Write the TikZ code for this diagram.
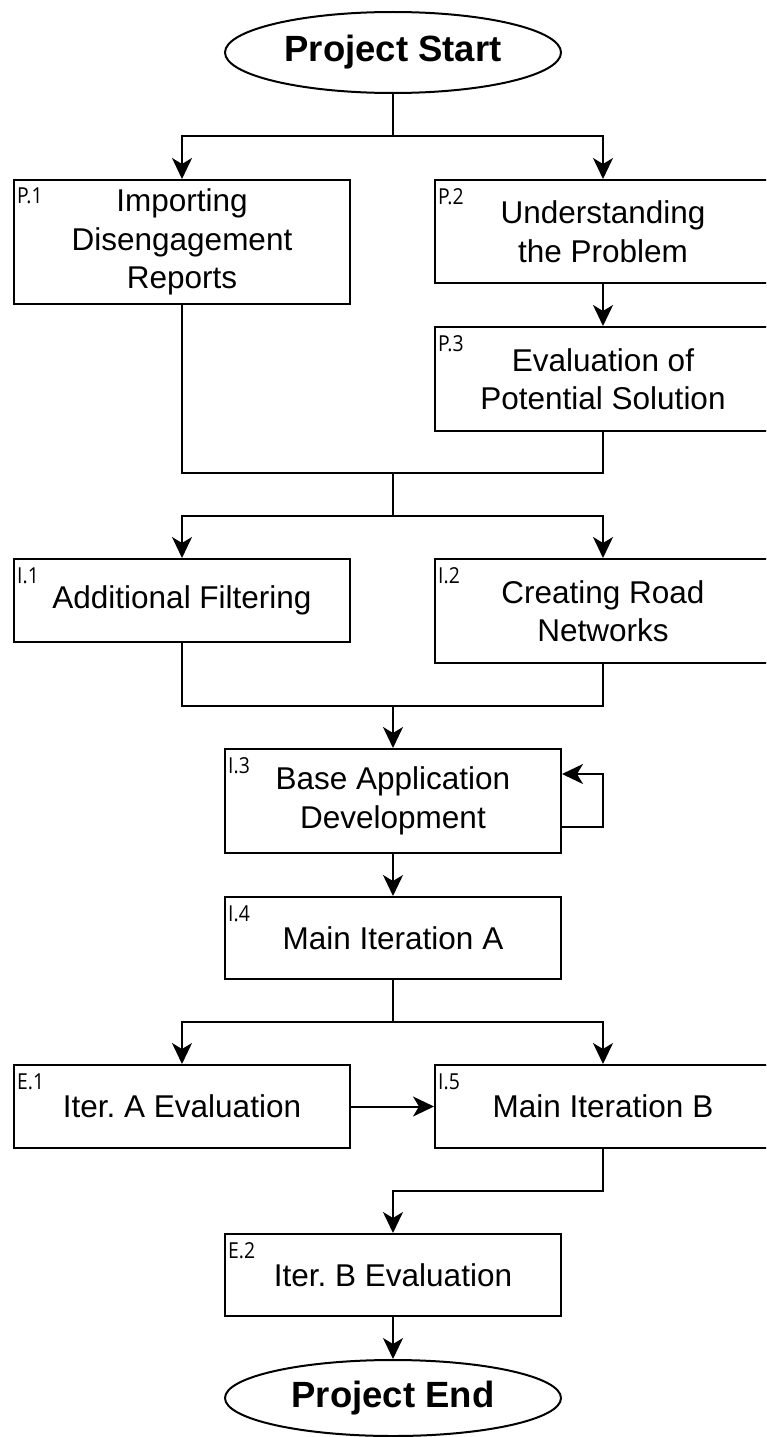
\documentclass[tikz,border=0pt]{standalone}
\usepackage{fontspec}
\setmainfont{Liberation Sans}
\newfontfamily\labelfont[FakeStretch=0.88]{Open Sans}
\frenchspacing
\usetikzlibrary{arrows.meta,shapes.geometric,calc}
\tikzset{
  box/.style={draw, line width=2pt, rectangle, inner sep=0pt, minimum width=336pt, align=center,
    font=\fontsize{31.5}{38.5}\selectfont},
  term/.style={draw, line width=2pt, ellipse, inner sep=0pt, minimum width=336pt, align=center,
    font=\bfseries\fontsize{36.5}{43}\selectfont},
  conn/.style={line width=2pt},
  arr/.style={line width=2pt, -{Stealth[length=21pt, width=20pt, inset=6pt]}},
  tag/.style={anchor=base west, inner sep=0pt, font=\labelfont\fontsize{22}{24}\selectfont},
}
\begin{document}
\begin{tikzpicture}[x=1pt, y=-1pt]
\useasboundingbox (0,0) rectangle (766,1437);
\clip (0,0) rectangle (766,1437);
\fill[white] (0,0) rectangle (766,1437);

% nodes
\node[term, minimum height=81pt] (start) at (393,52.5) {Project Start};
\node[box, minimum height=124pt] (p1) at (182,242) {Importing\\Disengagement\\Reports};
\node[box, minimum height=103pt] (p2) at (603,231.5) {Understanding\\the Problem};
\node[box, minimum height=104pt] (p3) at (603,379) {Evaluation of\\Potential Solution};
\node[box, minimum height=83pt] (i1) at (182,600.5) {Additional Filtering};
\node[box, minimum height=104pt] (i2) at (603,611) {Creating Road\\Networks};
\node[box, minimum height=104pt] (i3) at (393,801) {Base Application\\Development};
\node[box, minimum height=82pt] (i4) at (393,938) {Main Iteration A};
\node[box, minimum height=83pt] (e1) at (182,1106.5) {Iter. A Evaluation};
\node[box, minimum height=83pt] (i5) at (603,1106.5) {Main Iteration B};
\node[box, minimum height=82pt] (e2) at (393,1275) {Iter. B Evaluation};
\node[term, minimum height=76pt] (end) at (393,1398) {Project End};

% tags
\node[tag] (tp1) at ($(p1.north west)+(4,24)$) {P.1};
\node[tag] (tp2) at ($(p2.north west)+(4,25)$) {P.2};
\node[tag] (tp3) at ($(p3.north west)+(4,25)$) {P.3};
\node[tag] (ti1) at ($(i1.north west)+(4,25)$) {I.1};
\node[tag] (ti2) at ($(i2.north west)+(4,25)$) {I.2};
\node[tag] (ti3) at ($(i3.north west)+(4,25)$) {I.3};
\node[tag] (ti4) at ($(i4.north west)+(4,25)$) {I.4};
\node[tag] (te1) at ($(e1.north west)+(4,25)$) {E.1};
\node[tag] (ti5) at ($(i5.north west)+(4,25)$) {I.5};
\node[tag] (te2) at ($(e2.north west)+(4,25)$) {E.2};

% junctions
\coordinate (j1) at (393,136);
\coordinate (j2) at (393,473);
\coordinate (j3) at (393,516);
\coordinate (j4) at (393,706);
\coordinate (j5) at (393,1022);
\coordinate (j6) at (393,1191);
\coordinate (l1) at (603,827);
\coordinate (l2) at (603,774);

% connectors
\draw[conn] (start) -- (j1);
\draw[arr] (j1) -| (p1);
\draw[arr] (j1) -| (p2);
\draw[arr] (p2) -- (p3);
\draw[conn] (p1) |- (j2);
\draw[conn] (p3) |- (j2);
\draw[conn] (j2) -- (j3);
\draw[arr] (j3) -| (i1);
\draw[arr] (j3) -| (i2);
\draw[conn] (i1) |- (j4);
\draw[conn] (i2) |- (j4);
\draw[arr] (j4) -- (i3);
\draw[arr] (i3.east |- l1) -- (l1) -- (l2) -- (i3.east |- l2);
\draw[arr] (i3) -- (i4);
\draw[conn] (i4) -- (j5);
\draw[arr] (j5) -| (e1);
\draw[arr] (j5) -| (i5);
\draw[arr] (e1) -- (i5);
\draw[arr] (i5) |- (j6) -- (e2);
\draw[arr] (e2) -- (end);
\end{tikzpicture}
\end{document}
